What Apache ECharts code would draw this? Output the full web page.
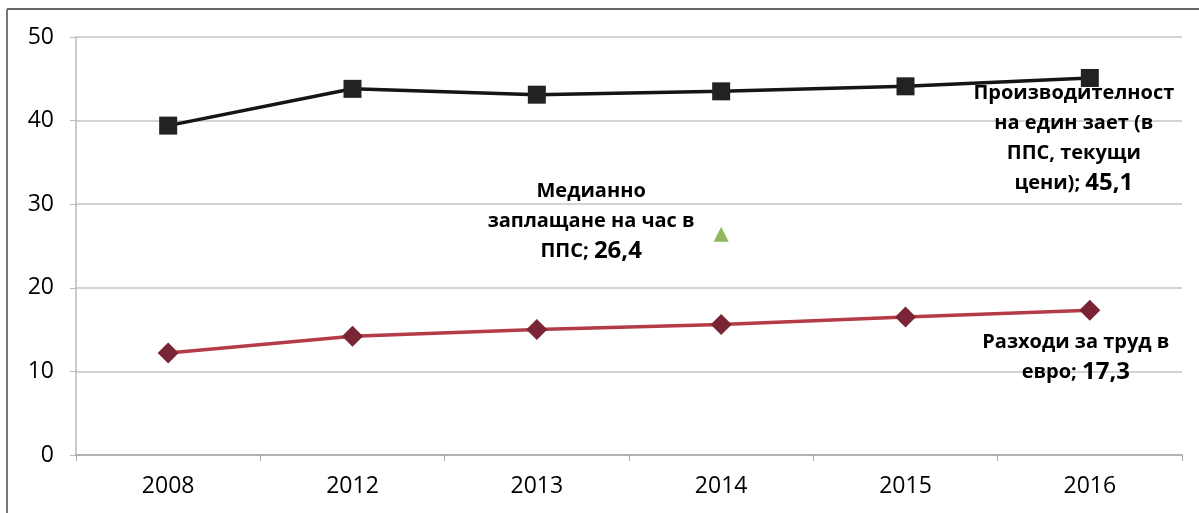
<!DOCTYPE html>
<html>
<head>
<meta charset="utf-8">
<script src="https://cdn.jsdelivr.net/npm/echarts@6/dist/echarts.min.js"></script>
<style>
  html, body { margin: 0; padding: 0; background: #fff; }
  #chart { width: 1199px; height: 513px; }
</style>
</head>
<body>
<div id="chart"></div>
<script>
// years on the x axis
const years = ['2008', '2012', '2013', '2014', '2015', '2016'];
// productivity per employed person (PPS, current prices)
const productivity = [39.4, 43.8, 43.1, 43.5, 44.1, 45.1];
// labour cost in euro
const labourCost = [12.2, 14.2, 15.0, 15.6, 16.5, 17.3];
// median hourly pay in PPS (only 2014)
const medianPay = [null, null, null, 26.4, null, null];
const yTicks = [0, 10, 20, 30, 40, 50];

const font = '"Open Sans", "Noto Sans", sans-serif';
const txt = { fontFamily: font, fontWeight: 'bold', fontSize: 20, color: '#000', lineHeight: 30 };
const num = { fontFamily: font, fontWeight: 'bold', fontSize: 24, color: '#000', lineHeight: 30 };

function lastLabel(arr, fmt, offset) {
    const last = arr.length - 1;
    return arr.map((v, i) => i !== last ? v : {
        value: v,
        label: {
            show: true, position: 'inside', offset: offset, align: 'center',
            color: '#000', formatter: fmt, rich: { t: txt, n: num }
        }
    });
}

const chartDom = document.getElementById('chart');
var myChart = echarts.init(chartDom);
var option;

option = {
    animation: false,
    backgroundColor: '#fff',
    grid: { left: 76, right: 17, top: 37, bottom: 58 },
    xAxis: {
        type: 'category',
        data: years,
        axisLine: { lineStyle: { color: '#a8a8a8', width: 1.5 } },
        axisTick: { show: true, length: 6, lineStyle: { color: '#a8a8a8' } },
        axisLabel: { fontFamily: font, fontSize: 23, color: '#000', margin: 20 }
    },
    yAxis: {
        type: 'value',
        min: yTicks[0],
        max: yTicks[yTicks.length - 1],
        interval: 10,
        axisLine: { show: true, lineStyle: { color: '#b8b8b8', width: 1.5 } },
        axisTick: { show: true, length: 6, lineStyle: { color: '#b8b8b8' } },
        axisLabel: { fontFamily: font, fontSize: 23, color: '#000', margin: 22 },
        splitLine: { lineStyle: { color: '#c4c4c4', width: 1.5 } }
    },
    series: [
        {
            name: 'Производителност',
            type: 'line',
            data: lastLabel(productivity,
                '{t|Производителност}\n{t|на един зает (в}\n{t|ППС, текущи}\n{t|цени); }{n|45,1}', [-16, 60]),
            symbol: 'rect',
            symbolSize: 18,
            itemStyle: { color: '#222' },
            lineStyle: { color: '#151515', width: 3.5 },
            z: 3
        },
        {
            name: 'Разходи за труд',
            type: 'line',
            data: lastLabel(labourCost,
                '{t|Разходи за труд в}\n{t|евро; }{n|17,3}', [-14, 47]),
            symbol: 'diamond',
            symbolSize: 21,
            itemStyle: { color: '#7a2535' },
            lineStyle: { color: '#b43c48', width: 3.5 },
            z: 3
        },
        {
            name: 'Медианно заплащане',
            type: 'scatter',
            data: medianPay.map(v => v === null ? '-' : {
                value: v,
                label: {
                    show: true, position: 'inside', offset: [-130, -13], align: 'center',
                    color: '#000',
                    formatter: '{t|Медианно}\n{t|заплащане на час в}\n{t|ППС; }{n|26,4}',
                    rich: { t: txt, n: num }
                }
            }),
            symbol: 'triangle',
            symbolSize: 15,
            itemStyle: { color: '#8fb85f', opacity: 1 }
        }
    ],
    graphic: [
        { type: 'line', shape: { x1: 7, y1: 9, x2: 1199, y2: 9 }, style: { stroke: '#666', lineWidth: 2 } },
        { type: 'line', shape: { x1: 7, y1: 9, x2: 7, y2: 513 }, style: { stroke: '#777', lineWidth: 2 } }
    ]
};

option && myChart.setOption(option);
</script>
</body>
</html>
